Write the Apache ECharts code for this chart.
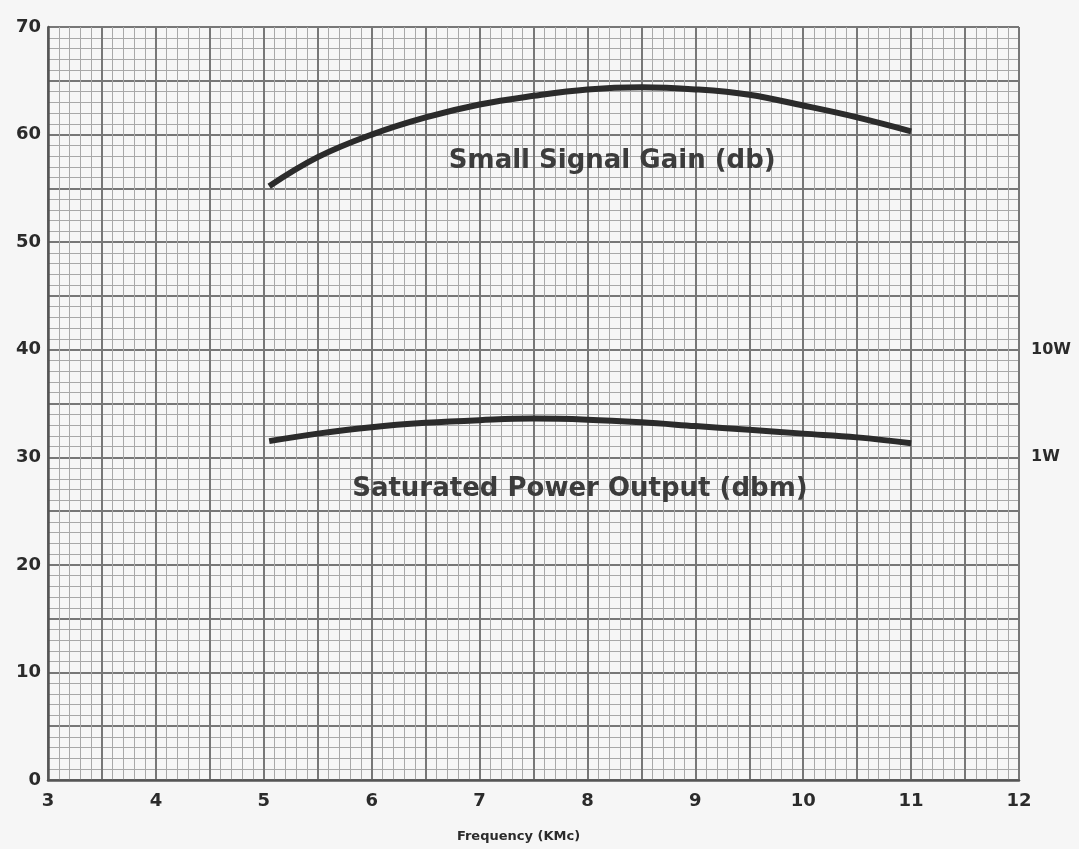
<!DOCTYPE html>
<html>
<head>
<meta charset="utf-8">
<script src="https://cdn.jsdelivr.net/npm/echarts@6/dist/echarts.min.js"></script>
<style>
  html, body { margin: 0; padding: 0; background: #f6f6f6; }
  #chart { width: 1079px; height: 849px; }
</style>
</head>
<body>
<div id="chart"></div>
<script>
// Frequency in KMc
const gainFreq  = [5.05, 5.5, 6.0, 6.5, 7.0, 7.5, 8.0, 8.5, 9.0, 9.5, 10.0, 10.5, 11.0];
// Small signal gain, db
const gainDb    = [55.2, 57.9, 60.0, 61.6, 62.8, 63.6, 64.2, 64.4, 64.2, 63.7, 62.7, 61.6, 60.3];

const powerFreq = [5.05, 5.5, 6.0, 6.5, 7.0, 7.5, 8.0, 8.5, 9.0, 9.5, 10.0, 10.5, 11.0];
// Saturated power output, dbm
const powerDbm  = [31.5, 32.2, 32.8, 33.2, 33.45, 33.6, 33.5, 33.25, 32.9, 32.55, 32.2, 31.85, 31.3];

// Watt markers on the right-hand scale (dbm -> label)
const wattTicks  = [30, 40];
const wattLabels = ['1W', '10W'];

const gainTitle  = 'Small Signal Gain (db)';
const powerTitle = 'Saturated Power Output (dbm)';
const xName = 'Frequency (KMc)';

const ink = '#2b2b2b';
const fontFam = '"DejaVu Sans", "Open Sans", sans-serif';

const chart = echarts.init(document.getElementById('chart'));

const pairs = (xs, ys) => xs.map((x, i) => [x, ys[i]]);

chart.setOption({
  backgroundColor: '#f6f6f6',
  animation: false,
  grid: { left: 48, top: 27, right: 60, bottom: 69 },
  xAxis: {
    type: 'value', min: 3, max: 12, interval: 0.5,
    name: xName, nameLocation: 'middle', nameGap: 50,
    nameTextStyle: { fontFamily: fontFam, fontWeight: 'bold', fontSize: 13, color: ink, padding: [0, 30, 0, 0] },
    axisLine: { show: true, lineStyle: { color: '#555', width: 2.5 } },
    axisTick: { show: false },
    axisLabel: {
      margin: 12, fontFamily: fontFam, fontWeight: 'bold', fontSize: 18, color: ink,
      formatter: v => (Math.abs(v - Math.round(v)) < 1e-6 ? String(Math.round(v)) : '')
    },
    splitLine: { show: true, lineStyle: { color: '#777', width: 2 } },
    minorTick: { show: false, splitNumber: 5 },
    minorSplitLine: { show: true, lineStyle: { color: '#a8a8a8', width: 1 } }
  },
  yAxis: [
    {
      type: 'value', min: 0, max: 70, interval: 5,
      axisLine: { show: true, lineStyle: { color: '#555', width: 2.5 } },
      axisTick: { show: false },
      axisLabel: {
        margin: 7, fontFamily: fontFam, fontWeight: 'bold', fontSize: 18, color: ink,
        formatter: v => (v % 10 === 0 ? String(v) : '')
      },
      splitLine: { show: true, lineStyle: { color: '#777', width: 2 } },
      minorTick: { show: false, splitNumber: 5 },
      minorSplitLine: { show: true, lineStyle: { color: '#a8a8a8', width: 1 } }
    },
    {
      type: 'value', min: 0, max: 70, interval: 5, position: 'right',
      axisLine: { show: false }, axisTick: { show: false }, splitLine: { show: false },
      axisLabel: {
        margin: 12, fontFamily: fontFam, fontWeight: 'bold', fontSize: 16, color: ink,
        formatter: v => { const i = wattTicks.indexOf(v); return i >= 0 ? wattLabels[i] : ''; }
      }
    }
  ],
  series: [
    {
      type: 'line', name: gainTitle, data: pairs(gainFreq, gainDb),
      smooth: 0.4, showSymbol: false, z: 5,
      lineStyle: { color: ink, width: 6 },
      markPoint: {
        symbol: 'circle', symbolSize: 0,
        label: { show: true, formatter: gainTitle, fontFamily: fontFam, fontWeight: 'bold', fontSize: 26, color: '#3c3c3c' },
        data: [{ coord: [8.23, 57.5] }]
      }
    },
    {
      type: 'line', name: powerTitle, data: pairs(powerFreq, powerDbm),
      smooth: 0.4, showSymbol: false, z: 5,
      lineStyle: { color: ink, width: 6 },
      markPoint: {
        symbol: 'circle', symbolSize: 0,
        label: { show: true, formatter: powerTitle, fontFamily: fontFam, fontWeight: 'bold', fontSize: 26, color: '#3c3c3c' },
        data: [{ coord: [7.93, 27.0] }]
      }
    }
  ]
});
</script>
</body>
</html>
